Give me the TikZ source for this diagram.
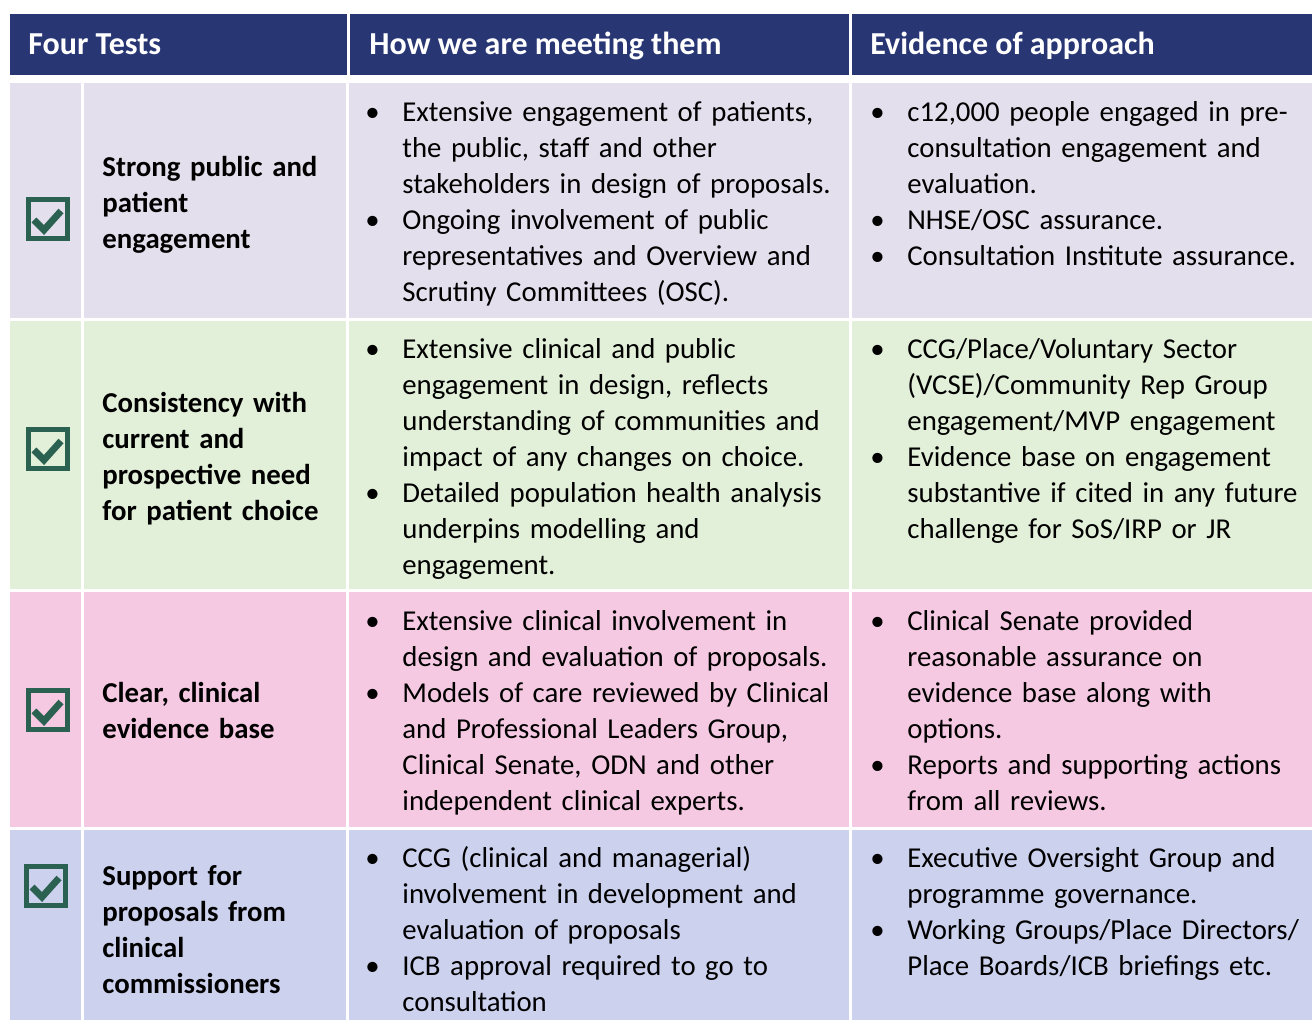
\documentclass[tikz,border=0pt]{standalone}
\usepackage{fontspec}
\setmainfont{Carlito}
\definecolor{headblue}{HTML}{283674}
\definecolor{rowlilac}{HTML}{E4DFEC}
\definecolor{rowgreen}{HTML}{E2EFD9}
\definecolor{rowpink}{HTML}{F5C9E2}
\definecolor{rowblue}{HTML}{CCD1EE}
\definecolor{tickgreen}{HTML}{2A6151}
\newcommand{\bitem}[1]{\par\noindent\hangindent=18.5pt\hangafter=1\makebox[18.5pt][l]{\textbullet}#1\par}
\tikzset{
  headtext/.style={anchor=base west,inner sep=0pt,text=white,font=\fontsize{16}{18}\selectfont\bfseries},
  testtext/.style={anchor=west,inner sep=0pt,text width=125pt,align=left,font=\fontsize{14.4}{18}\selectfont\bfseries},
  celltext/.style={anchor=base west,inner sep=0pt,text width=242pt,font=\fontsize{14.4}{18}\selectfont\raggedright},
  tickbox/.style={draw=tickgreen,line width=2.5pt,minimum size=19.5pt,inner sep=0pt},
  tickmark/.style={draw=tickgreen,line width=3.4pt}
}
\begin{document}
\begin{tikzpicture}[x=0.5pt,y=-0.5pt]
\useasboundingbox (0,0) rectangle (1312,1020);
% header
\fill[headblue] (10,14) rectangle (347,75);
\fill[headblue] (350,14) rectangle (849,75);
\fill[headblue] (852,14) rectangle (1312,75);
\node[headtext] (h1) at (28,55) {Four Tests};
\node[headtext] (h2) at (369,55) {How we are meeting them};
\node[headtext] (h3) at (870,55) {Evidence of approach};

% row backgrounds
\fill[rowlilac] (10,83) rectangle (81,318);
\fill[rowlilac] (84,83) rectangle (346,318);
\fill[rowlilac] (349,83) rectangle (849,318);
\fill[rowlilac] (852,83) rectangle (1312,318);
\fill[rowgreen] (10,321) rectangle (81,589);
\fill[rowgreen] (84,321) rectangle (346,589);
\fill[rowgreen] (349,321) rectangle (849,589);
\fill[rowgreen] (852,321) rectangle (1312,589);
\fill[rowpink] (10,592) rectangle (81,827);
\fill[rowpink] (84,592) rectangle (346,827);
\fill[rowpink] (349,592) rectangle (849,827);
\fill[rowpink] (852,592) rectangle (1312,827);
\fill[rowblue] (10,830) rectangle (81,1020);
\fill[rowblue] (84,830) rectangle (346,1020);
\fill[rowblue] (349,830) rectangle (849,1020);
\fill[rowblue] (852,830) rectangle (1312,1020);

% tick boxes
\node[tickbox] (tick1) at (48,219) {};
\node[tickbox] (tick2) at (48,449) {};
\node[tickbox] (tick3) at (48,710) {};
\node[tickbox] (tick4) at (46,886) {};
\foreach \t in {tick1,tick2,tick3,tick4}
  \draw[tickmark] ([shift={(-14,1)}]\t.center) -- ++(10,10) -- ++(17,-19);

% four tests
\node[testtext] (test1) at (102,205) {Strong public and\\ patient\\ engagement};
\node[testtext] (test2) at (102,459) {Consistency with\\ current and\\ prospective need\\ for patient choice};
\node[testtext] (test3) at (102,711) {Clear, clinical\\ evidence base};
\node[testtext] (test4) at (102,930) {Support for\\ proposals from\\ clinical\\ commissioners};

% how we are meeting them
\node[celltext] (how1) at (365,86) {%
\bitem{Extensive engagement of patients,\newline the public, staff and other\newline stakeholders in design of proposals.}
\bitem{Ongoing involvement of public\newline representatives and Overview and\newline Scrutiny Committees (OSC).}};
\node[celltext] (how2) at (365,323) {%
\bitem{Extensive clinical and public\newline engagement in design, reflects\newline understanding of communities and\newline impact of any changes on choice.}
\bitem{Detailed population health analysis\newline underpins modelling and\newline engagement.}};
\node[celltext] (how3) at (365,595) {%
\bitem{Extensive clinical involvement in\newline design and evaluation of proposals.}
\bitem{Models of care reviewed by Clinical\newline and Professional Leaders Group,\newline Clinical Senate, ODN and other\newline independent clinical experts.}};
\node[celltext] (how4) at (365,832) {%
\bitem{CCG (clinical and managerial)\newline involvement in development and\newline evaluation of proposals}
\bitem{ICB approval required to go to\newline consultation}};

% evidence of approach
\node[celltext] (evid1) at (870,86) {%
\bitem{c12,000 people engaged in pre-\newline consultation engagement and\newline evaluation.}
\bitem{NHSE/OSC assurance.}
\bitem{Consultation Institute assurance.}};
\node[celltext] (evid2) at (870,323) {%
\bitem{CCG/Place/Voluntary Sector\newline (VCSE)/Community Rep Group\newline engagement/MVP engagement}
\bitem{Evidence base on engagement\newline substantive if cited in any future\newline challenge for SoS/IRP or JR}};
\node[celltext] (evid3) at (870,595) {%
\bitem{Clinical Senate provided\newline reasonable assurance on\newline evidence base along with\newline options.}
\bitem{Reports and supporting actions\newline from all reviews.}};
\node[celltext] (evid4) at (870,832) {%
\bitem{Executive Oversight Group and\newline programme governance.}
\bitem{Working Groups/Place Directors/\newline Place Boards/ICB briefings etc.}};
\end{tikzpicture}
\end{document}
